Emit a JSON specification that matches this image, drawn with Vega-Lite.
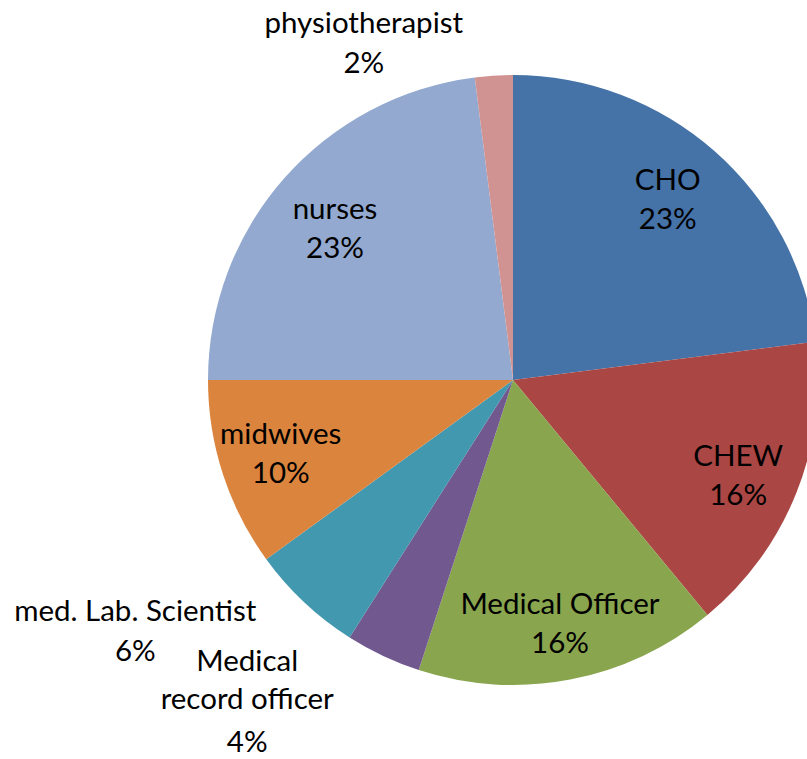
{
  "$schema": "https://vega.github.io/schema/vega-lite/v6.json",
  "autosize": {"type": "none"},
  "padding": {"left": 219, "top": 0, "right": 0, "bottom": 0},
  "width": 588,
  "height": 760,
  "background": "white",
  "config": {"view": {"stroke": null}},
  "data": {
    "values": [
      {"role": "CHO", "label": "CHO", "share": 0.23, "order": 1},
      {"role": "CHEW", "label": "CHEW", "share": 0.16, "order": 2},
      {"role": "Medical Officer", "label": "Medical Officer", "share": 0.16, "order": 3},
      {"role": "Medical record officer", "label": "Medical\nrecord officer", "share": 0.04, "order": 4},
      {"role": "med. Lab. Scientist", "label": "med. Lab. Scientist", "share": 0.06, "order": 5},
      {"role": "midwives", "label": "midwives", "share": 0.10, "order": 6},
      {"role": "nurses", "label": "nurses", "share": 0.23, "order": 7},
      {"role": "physiotherapist", "label": "physiotherapist", "share": 0.02, "order": 8}
    ]
  },
  "encoding": {
    "theta": {"field": "share", "type": "quantitative", "stack": true},
    "order": {"field": "order", "type": "quantitative"}
  },
  "layer": [
    {
      "mark": {"type": "arc", "outerRadius": 305},
      "encoding": {
        "color": {
          "field": "role", "type": "nominal", "legend": null,
          "scale": {
            "domain": ["CHO", "CHEW", "Medical Officer", "Medical record officer", "med. Lab. Scientist", "midwives", "nurses", "physiotherapist"],
            "range": ["#4572A7", "#AA4643", "#89A54E", "#71588F", "#4198AF", "#DB843D", "#93A9CF", "#D19392"]
          }
        }
      }
    },
    {
      "mark": {"type": "text", "radius": 240, "dx": -4, "dy": -19, "font": "Lato", "fontSize": 29.5, "color": "#000"},
      "encoding": {
        "text": {"condition": {"test": "indexof(['CHO','midwives'], datum.role) >= 0", "field": "label", "type": "nominal"}, "value": ""}
      }
    },
    {
      "mark": {"type": "text", "radius": 240, "dx": -4, "dy": 20, "font": "Lato", "fontSize": 29.5, "color": "#000"},
      "encoding": {
        "text": {"condition": {"test": "indexof(['CHO','midwives'], datum.role) >= 0", "field": "share", "type": "quantitative", "format": ".0%"}, "value": ""}
      }
    },
    {
      "mark": {"type": "text", "radius": 240, "dx": 2, "dy": -11, "font": "Lato", "fontSize": 29.5, "color": "#000"},
      "encoding": {
        "text": {"condition": {"test": "indexof(['CHEW','Medical Officer','nurses'], datum.role) >= 0", "field": "label", "type": "nominal"}, "value": ""}
      }
    },
    {
      "mark": {"type": "text", "radius": 240, "dx": 2, "dy": 28, "font": "Lato", "fontSize": 29.5, "color": "#000"},
      "encoding": {
        "text": {"condition": {"test": "indexof(['CHEW','Medical Officer','nurses'], datum.role) >= 0", "field": "share", "type": "quantitative", "format": ".0%"}, "value": ""}
      }
    },
    {
      "mark": {"type": "text", "radius": 338, "dx": -128, "dy": -19, "font": "Lato", "fontSize": 29.5, "color": "#000"},
      "encoding": {
        "text": {"condition": {"test": "datum.role === 'physiotherapist'", "field": "label", "type": "nominal"}, "value": ""}
      }
    },
    {
      "mark": {"type": "text", "radius": 338, "dx": -128, "dy": 21, "font": "Lato", "fontSize": 29.5, "color": "#000"},
      "encoding": {
        "text": {"condition": {"test": "datum.role === 'physiotherapist'", "field": "share", "type": "quantitative", "format": ".0%"}, "value": ""}
      }
    },
    {
      "mark": {"type": "text", "radius": 340, "dx": -145, "dy": -16, "font": "Lato", "fontSize": 29.5, "color": "#000"},
      "encoding": {
        "text": {"condition": {"test": "datum.role === 'med. Lab. Scientist'", "field": "label", "type": "nominal"}, "value": ""}
      }
    },
    {
      "mark": {"type": "text", "radius": 340, "dx": -145, "dy": 24, "font": "Lato", "fontSize": 29.5, "color": "#000"},
      "encoding": {
        "text": {"condition": {"test": "datum.role === 'med. Lab. Scientist'", "field": "share", "type": "quantitative", "format": ".0%"}, "value": ""}
      }
    },
    {
      "mark": {"type": "text", "radius": 340, "dx": -121, "dy": -26, "lineBreak": "\n", "lineHeight": 38, "font": "Lato", "fontSize": 29.5, "color": "#000"},
      "encoding": {
        "text": {"condition": {"test": "datum.role === 'Medical record officer'", "field": "label", "type": "nominal"}, "value": ""}
      }
    },
    {
      "mark": {"type": "text", "radius": 340, "dx": -121, "dy": 55, "font": "Lato", "fontSize": 29.5, "color": "#000"},
      "encoding": {
        "text": {"condition": {"test": "datum.role === 'Medical record officer'", "field": "share", "type": "quantitative", "format": ".0%"}, "value": ""}
      }
    }
  ]
}
